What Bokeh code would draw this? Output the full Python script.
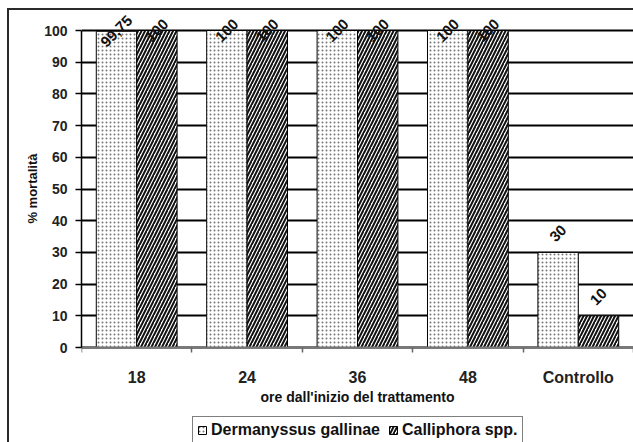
from bokeh.plotting import figure
from bokeh.models import (ColumnDataSource, FixedTicker, LabelSet, Legend,
                          LegendItem, Range1d, Title)
from bokeh.core.properties import value
from bokeh.embed import file_html
from bokeh.resources import INLINE

# Mortality (%) by hours since start of treatment
categories = ["18", "24", "36", "48", "Controllo"]
dermanyssus = [99.75, 100, 100, 100, 30]
calliphora = [100, 100, 100, 100, 10]
series_names = ["Dermanyssus gallinae", "Calliphora spp."]
y_ticks = list(range(0, 101, 10))

FONT = "Liberation Sans"
BAR_W = 0.366
Y_MAX = 100

# canvas layout (px): the plot frame runs to the bottom edge so that the
# category axis and the legend can live inside it, under y = 0
W, H = 633, 442
FRAME_LEFT, FRAME_TOP = 81, 10
ZERO_Y, HUNDRED_Y = 347, 30
px_per_unit = (ZERO_Y - HUNDRED_Y) / Y_MAX
y_start = -(H - ZERO_Y) / px_per_unit
y_end = (ZERO_Y - FRAME_TOP) / px_per_unit

p = figure(width=W, height=H, output_backend="svg", toolbar_location=None,
           x_range=Range1d(0, len(categories)), y_range=Range1d(y_start, y_end),
           min_border_left=FRAME_LEFT, min_border_right=0,
           min_border_top=FRAME_TOP, min_border_bottom=0)
p.outline_line_color = None
p.background_fill_color = "white"
p.border_fill_alpha = 0
# thin frame lines around the chart area (painted behind the canvas)
p.styles = {
    "background-color": "white",
    "background-image": "linear-gradient(#2a2a2a, #2a2a2a), linear-gradient(#2a2a2a, #2a2a2a)",
    "background-position": "7px 8px, 7px 8px",
    "background-size": "2px 100%, 100% 2px",
    "background-repeat": "no-repeat",
}


def fmt(v):
    return f"{v:g}".replace(".", ",")


def make_source(values, shift):
    xs = [i + 0.5 + shift for i in range(len(values))]
    # labels float above the bar; at the top of the scale they sit on the bar end
    offs = [19 if v < 90 else 0 for v in values]
    return ColumnDataSource(dict(x=xs, top=values, label=[fmt(v) for v in values],
                                 off=offs))


src_d = make_source(dermanyssus, -BAR_W / 2)
src_c = make_source(calliphora, BAR_W / 2)

r_d = p.vbar(x="x", top="top", width=BAR_W, bottom=0, source=src_d,
             fill_color="white", line_color="black", line_width=1,
             hatch_pattern="dot", hatch_color="#777", hatch_scale=4, hatch_weight=1)
r_c = p.vbar(x="x", top="top", width=BAR_W, bottom=0, source=src_c,
             fill_color="white", line_color="black", line_width=1,
             hatch_pattern="right_diagonal_line", hatch_color="#111",
             hatch_scale=7, hatch_weight=2)

for src in (src_d, src_c):
    p.add_layout(LabelSet(x="x", y="top", text="label", source=src,
                          y_offset="off", angle=45, angle_units="deg",
                          text_align="center", text_baseline="middle",
                          text_font=value(FONT), text_font_style="bold",
                          text_font_size="15px", text_color="#111"))

# value axis
p.yaxis.bounds = (0, Y_MAX)
p.yaxis.ticker = FixedTicker(ticks=y_ticks)
p.yaxis.major_tick_out = 6
p.yaxis.major_tick_in = 0
p.yaxis.minor_tick_line_color = None
p.yaxis.axis_line_width = 1.5
p.yaxis.axis_line_color = "black"
p.yaxis.major_tick_line_color = "black"
p.yaxis.major_tick_line_width = 1.5
p.yaxis.major_label_standoff = 8
p.yaxis.major_label_text_font = FONT
p.yaxis.major_label_text_font_style = "bold"
p.yaxis.major_label_text_font_size = "14px"
p.yaxis.major_label_text_color = "#222"

# value-axis title, centred on the 0-100 span rather than on the whole frame
y_title = Title(text="% mortalità", align="right", offset=143,
                text_font=FONT, text_font_style="bold", text_font_size="13px",
                text_color="#111", standoff=4)
p.add_layout(y_title, "left")

# category axis, pinned at y = 0
p.xaxis.fixed_location = 0
p.xaxis.ticker = FixedTicker(ticks=[i + 0.5 for i in range(len(categories))],
                             minor_ticks=list(range(len(categories) + 1)))
p.xaxis.major_label_overrides = {i + 0.5: c for i, c in enumerate(categories)}
p.xaxis.major_tick_line_color = None
p.xaxis.major_tick_out = 0
p.xaxis.major_tick_in = 0
p.xaxis.minor_tick_out = 5
p.xaxis.minor_tick_in = 0
p.xaxis.minor_tick_line_color = "#666"
p.xaxis.minor_tick_line_width = 1.5
p.xaxis.axis_line_color = "#777"
p.xaxis.axis_line_width = 2
p.xaxis.major_label_standoff = 16
p.xaxis.major_label_text_font = FONT
p.xaxis.major_label_text_font_style = "bold"
p.xaxis.major_label_text_font_size = "16px"
p.xaxis.major_label_text_color = "#222"
p.xaxis.axis_label = "ore dall'inizio del trattamento"
p.xaxis.axis_label_text_font = FONT
p.xaxis.axis_label_text_font_style = "bold"
p.xaxis.axis_label_text_font_size = "14px"
p.xaxis.axis_label_standoff = 0
p.xaxis.axis_label_text_color = "#111"

p.xgrid.grid_line_color = None
p.ygrid.ticker = FixedTicker(ticks=y_ticks)
p.ygrid.grid_line_color = "black"
p.ygrid.grid_line_width = 2

legend = Legend(items=[LegendItem(label=series_names[0], renderers=[r_d]),
                       LegendItem(label=series_names[1], renderers=[r_c])],
                orientation="horizontal", location=(111, -2),
                label_text_font=FONT, label_text_font_style="bold",
                label_text_font_size="16px", label_text_color="#111",
                glyph_width=10, glyph_height=10, label_standoff=4, spacing=8,
                padding=4, margin=0, border_line_color="black",
                border_line_width=1, background_fill_color="white",
                background_fill_alpha=1)
p.add_layout(legend, "center")

open("out.html", "w").write(file_html(p, INLINE))
